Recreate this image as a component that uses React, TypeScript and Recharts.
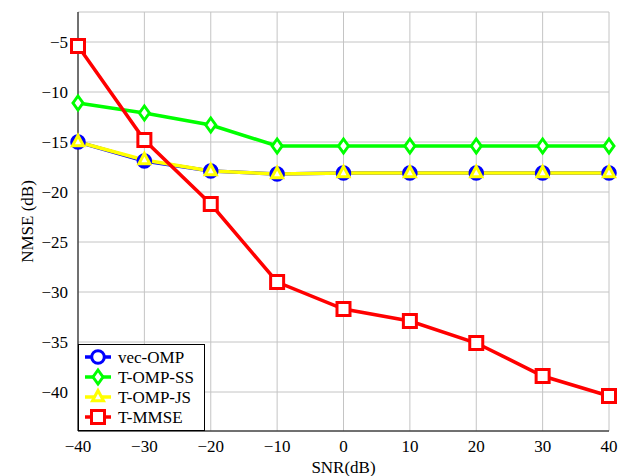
import React from 'react';
import { LineChart, Line, XAxis, YAxis, CartesianGrid, Legend } from 'recharts';

const snr = [-40, -30, -20, -10, 0, 10, 20, 30, 40];
const vecOMP = [-15.0, -16.9, -17.9, -18.2, -18.1, -18.1, -18.1, -18.1, -18.1];
const tOMPSS = [-11.1, -12.1, -13.3, -15.4, -15.4, -15.4, -15.4, -15.4, -15.4];
const tOMPJS = [-15.0, -16.8, -17.9, -18.2, -18.1, -18.1, -18.1, -18.1, -18.1];
const tMMSE = [-5.4, -14.8, -21.2, -29.0, -31.7, -32.9, -35.1, -38.4, -40.4];
const xTicks = [-40, -30, -20, -10, 0, 10, 20, 30, 40];
const yTicks = [-40, -35, -30, -25, -20, -15, -10, -5];
const seriesNames = ['vec-OMP', 'T-OMP-SS', 'T-OMP-JS', 'T-MMSE'];
const seriesKeys = ['vecOMP', 'tOMPSS', 'tOMPJS', 'tMMSE'];
const seriesColors = ['#0000ff', '#00ff00', '#ffff00', '#ff0000'];

const data = snr.map((s, i) => ({
  snr: s,
  vecOMP: vecOMP[i],
  tOMPSS: tOMPSS[i],
  tOMPJS: tOMPJS[i],
  tMMSE: tMMSE[i],
}));

const FONT = 'Liberation Serif';
const minus = (v: number) => (v < 0 ? '\u2212' + Math.abs(v) : String(v));

function marker(kind: number, cx: number, cy: number, key?: string, inPlot?: boolean) {
  const c = seriesColors[kind];
  if (kind === 0) {
    return <circle key={key} cx={cx} cy={cy} r={6.3} fill={inPlot ? c : '#ffffff'} stroke={c} strokeWidth={3} />;
  }
  if (kind === 1) {
    const pts = `${cx},${cy - 7} ${cx + 5},${cy} ${cx},${cy + 7} ${cx - 5},${cy}`;
    return <polygon key={key} points={pts} fill="#ffffff" stroke={c} strokeWidth={3} />;
  }
  if (kind === 2) {
    const pts = `${cx},${cy - 6.5} ${cx + 5.5},${cy + 3.8} ${cx - 5.5},${cy + 3.8}`;
    return <polygon key={key} points={pts} fill="#ffffff" stroke={c} strokeWidth={3} />;
  }
  return <rect key={key} x={cx - 6.5} y={cy - 6.5} width={13} height={13} fill="#ffffff" stroke={c} strokeWidth={3} />;
}

const makeDot = (kind: number) => (p: any) => {
  if (p.cx == null || p.cy == null) return <g key={`e-${kind}-${p.index}`} />;
  return marker(kind, p.cx, p.cy, `m-${kind}-${p.index}`, true);
};

const LegendBox = () => (
  <svg width={128} height={88} style={{ display: 'block' }}>
    <rect x={0.5} y={0.5} width={126} height={86} fill="#ffffff" stroke="#000000" strokeWidth={1} />
    {seriesNames.map((n, i) => {
      const cy = 13 + i * 20;
      return (
        <g key={n}>
          <line x1={7} x2={33} y1={cy} y2={cy} stroke={seriesColors[i]} strokeWidth={3.5} />
          {marker(i, 20, cy)}
          <text x={40} y={cy + 5.5} style={{ fontFamily: FONT, fontSize: 17 }} fill="#000000">
            {n}
          </text>
        </g>
      );
    })}
  </svg>
);

export default function App() {
  return (
    <div style={{ position: 'absolute', left: 0, top: 0, width: 630, height: 476, background: '#ffffff' }}>
      <LineChart width={630} height={476} data={data} margin={{ top: 12, right: 21, bottom: 0, left: 0 }}>
        <CartesianGrid stroke="#c4c4c4" strokeWidth={1} horizontal vertical />
        <XAxis
          dataKey="snr"
          type="number"
          domain={[-40, 40]}
          ticks={xTicks}
          tickFormatter={minus}
          height={45}
          axisLine={{ stroke: '#000000', strokeWidth: 1 }}
          tickLine={false}
          tick={{ fontFamily: FONT, fontSize: 17, fill: '#000000', dy: 1 }}
          label={{ value: 'SNR(dB)', position: 'insideBottom', offset: 3, style: { fontFamily: FONT, fontSize: 17, fill: '#000000' } }}
        />
        <XAxis xAxisId="top" orientation="top" dataKey="snr" type="number" domain={[-40, 40]} height={0} tick={false} tickLine={false} axisLine={{ stroke: '#000000', strokeWidth: 1 }} />
        <YAxis
          type="number"
          domain={[-43.9, -2]}
          ticks={yTicks}
          tickFormatter={minus}
          width={78}
          allowDataOverflow
          axisLine={{ stroke: '#000000', strokeWidth: 1 }}
          tickLine={false}
          tick={{ fontFamily: FONT, fontSize: 17, fill: '#000000', dx: -2 }}
          label={{ value: 'NMSE (dB)', angle: -90, position: 'insideLeft', offset: 27, style: { fontFamily: FONT, fontSize: 17, fill: '#000000', textAnchor: 'middle' } }}
        />
        <YAxis yAxisId="right" orientation="right" type="number" domain={[-43.9, -2]} width={0} tick={false} tickLine={false} axisLine={{ stroke: '#000000', strokeWidth: 1 }} />
        {seriesKeys.map((k, i) => (
          <Line
            key={k}
            dataKey={k}
            name={seriesNames[i]}
            stroke={seriesColors[i]}
            strokeWidth={3.5}
            dot={makeDot(i)}
            activeDot={false}
            isAnimationActive={false}
          />
        ))}
        <Legend
          layout="horizontal"
          verticalAlign="middle"
          align="center"
          wrapperStyle={{ left: 78, top: 344, width: 128, height: 88 }}
          content={() => <LegendBox />}
        />
      </LineChart>
    </div>
  );
}
